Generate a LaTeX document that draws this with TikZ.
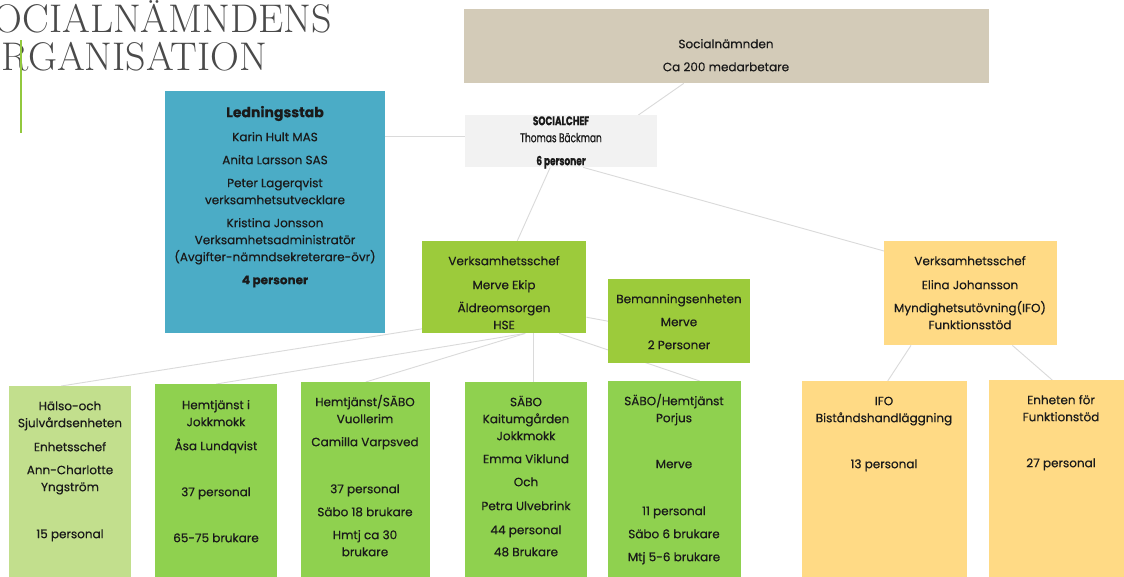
\documentclass[tikz,border=0pt]{standalone}
\usepackage{fontspec}
\usetikzlibrary{backgrounds,calc}
\newfontfamily\gothic[FakeBold=0.5]{Poppins}
\newfontfamily\gothiccond[FakeStretch=0.72,FakeBold=0.6]{Poppins}
\newcommand\fl{\rule{0pt}{13pt}}
\definecolor{tanbox}{HTML}{D3CBB8}
\definecolor{greybox}{HTML}{F2F2F2}
\definecolor{bluebox}{HTML}{4BACC6}
\definecolor{midgreen}{HTML}{9CCB3B}
\definecolor{botgreen}{HTML}{8FD14F}
\definecolor{lightgreen}{HTML}{C2DF8D}
\definecolor{yellowbox}{HTML}{FFDA85}
\definecolor{ink}{HTML}{1A1A1A}
\definecolor{titlegray}{HTML}{4A4A4A}
\definecolor{linegray}{HTML}{DADADA}
\definecolor{accent}{HTML}{92C83E}
\begin{document}
\begin{tikzpicture}[x=1pt,y=-1pt,
  box/.style={rectangle, draw=none, inner sep=0pt, anchor=north west},
  txt/.style={font=\gothic\fontsize{12}{17}\selectfont, align=center, text=ink, inner sep=0pt, anchor=north},
  conn/.style={draw=linegray, line width=0.9pt},
  titletxt/.style={font=\fontsize{40}{46}\selectfont, text=titlegray, inner sep=0pt, anchor=base west}]
\useasboundingbox (0,0) rectangle (1124,576);

% title
\node[titletxt] (t1) at (-27,32) {SOCIALNÄMNDENS};
\node[titletxt] (t2) at (-27,70) {ORGANISATION};
\draw[accent, line width=2pt] (21,40) -- (21,133);

% boxes
\node[box, fill=tanbox, minimum width=525pt, minimum height=74pt] (nam) at (464,9) {};
\node[box, fill=greybox, minimum width=192pt, minimum height=52pt] (sc) at (465,115) {};
\node[box, fill=bluebox, minimum width=220pt, minimum height=242pt] (led) at (165,91) {};
\node[box, fill=midgreen, minimum width=164pt, minimum height=92pt] (gv) at (422,241) {};
\node[box, fill=midgreen, minimum width=142pt, minimum height=84pt] (bem) at (608,279) {};
\node[box, fill=yellowbox, minimum width=173pt, minimum height=104pt] (yv) at (884,241) {};
\node[box, fill=lightgreen, minimum width=122pt, minimum height=200pt] (b1) at (9,386) {};
\node[box, fill=botgreen, minimum width=122pt, minimum height=200pt] (b2) at (155,384) {};
\node[box, fill=botgreen, minimum width=129pt, minimum height=200pt] (b3) at (301,382) {};
\node[box, fill=botgreen, minimum width=122pt, minimum height=200pt] (b4) at (465,382) {};
\node[box, fill=botgreen, minimum width=133pt, minimum height=200pt] (b5) at (608,381) {};
\node[box, fill=yellowbox, minimum width=165pt, minimum height=200pt] (ifo) at (802,381) {};
\node[box, fill=yellowbox, minimum width=144pt, minimum height=200pt] (enh) at (989,380) {};

% connectors
\begin{scope}[on background layer]
\fill[white] (0,0) rectangle (1124,576);
\draw[conn] ([xshift=-43pt]nam.south) -- ([xshift=-19pt]sc.north east);
\draw[conn] ([yshift=5pt]sc.west) -- ([yshift=5pt]sc.west -| led.east);
\draw[conn] ([xshift=-11pt]sc.south) -- ([xshift=13pt]gv.north);
\draw[conn] ([xshift=22pt]sc.south) -- ([yshift=-10pt]yv.north west);
\draw[conn] ([yshift=-30pt]gv.east) -- (bem.west);
\draw[conn] ([xshift=9pt,yshift=6pt]gv.south west) -- ([xshift=-9pt]b1.north);
\draw[conn] ([xshift=21pt]gv.south) -- (b2.north);
\draw[conn] ([xshift=21pt]gv.south) -- (b3.north);
\draw[conn] ([xshift=7pt]b4.north) -- ([xshift=7pt]b4.north |- gv.south);
\draw[conn] ([xshift=55pt]gv.south) -- ([xshift=25pt]b5.north);
\draw[conn] ([xshift=27pt]yv.south west) -- ([xshift=3pt]ifo.north);
\draw[conn] ([xshift=-45pt]yv.south east) -- ([xshift=-9pt]enh.north);
\end{scope}

% texts (y = first baseline - 13)
\node[txt] (namt) at (726,35) {\fl Socialnämnden\\[6pt]Ca 200 medarbetare};
\node[txt, font=\gothiccond\fontsize{12.5}{17}\selectfont] (sct) at (561,112) {\fl\bfseries SOCIALCHEF\\Thomas Bäckman\\[6pt]\bfseries 6 personer};
\node[txt] (ledt) at (275,104) {\fl{\bfseries\fontsize{14}{17}\selectfont Ledningsstab}\\[7pt]Karin Hult MAS\\[6pt]Anita Larsson SAS\\[6pt]Peter Lagerqvist\\verksamhetsutvecklare\\[6pt]Kristina Jonsson\\Verksamhetsadministratör\\(Avgifter-nämndsekreterare-övr)\\[6pt]\bfseries 4 personer};
\node[txt] (gvt) at (504,252) {\fl Verksamhetsschef\\[7pt]Merve Ekip\\[6pt]Äldreomsorgen\\HSE};
\node[txt] (bemt) at (679,290) {\fl Bemanningsenheten\\[6pt]Merve\\[6pt]2 Personer};
\node[txt] (yvt) at (970,252) {\fl Verksamhetsschef\\[7pt]Elina Johansson\\[6pt]Myndighetsutövning(IFO)\\Funktionsstöd};
\node[txt] (b1t) at (70,397) {\fl Hälso-och\\Sjulvårdsenheten\\[7pt]Enhetsschef\\[6pt]Ann-Charlotte\\Yngström\\[6pt]\mbox{}\\[7pt]15 personal};
\node[txt] (b2t) at (216,396) {\fl Hemtjänst i\\Jokkmokk\\[7pt]Åsa Lundqvist\\[6pt]\mbox{}\\[6pt]37 personal\\[6pt]\mbox{}\\[6pt]65-75 brukare};
\node[txt] (b3t) at (365,393) {\fl Hemtjänst/SÄBO\\Vuollerim\\[6pt]Camilla Varpsved\\[6pt]\mbox{}\\[7pt]37 personal\\[6pt]Säbo 18 brukare\\[6pt]Hmtj ca 30\\brukare};
\node[txt] (b4t) at (526,393) {\fl SÄBO\\Kaitumgården\\Jokkmokk\\[6pt]Emma Viklund\\[6pt]Och\\[7pt]Petra Ulvebrink\\[7pt]44 personal\\[5pt]48 Brukare};
\node[txt] (b5t) at (674,392) {\fl SÄBO/Hemtjänst\\Porjus\\[6pt]\mbox{}\\[6pt]Merve\\[6pt]\mbox{}\\[7pt]11 personal\\[6pt]Säbo 6 brukare\\[6pt]Mtj 5-6 brukare};
\node[txt] (ifot) at (884,392) {\fl IFO\\Biståndshandläggning\\[6pt]\mbox{}\\[6pt]13 personal};
\node[txt] (enht) at (1061,391) {\fl Enheten för\\Funktionstöd\\[6pt]\mbox{}\\[6pt]27 personal};
\end{tikzpicture}
\end{document}
